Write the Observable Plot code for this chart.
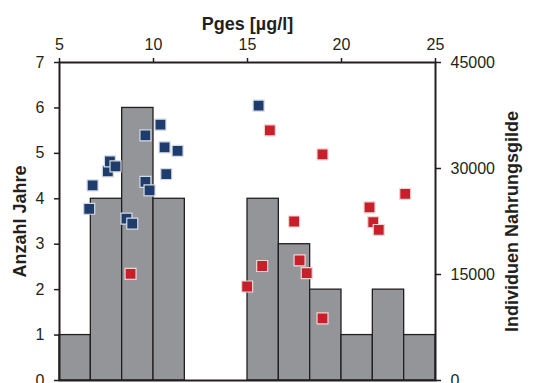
<!DOCTYPE html>
<html><head><meta charset="utf-8">
<script src="https://cdn.jsdelivr.net/npm/d3@7"></script>
<script src="https://cdn.jsdelivr.net/npm/@observablehq/plot@0.6"></script>
<style>body{margin:0;background:#fff;overflow:hidden}</style>
</head><body><div id="chart"></div>
<script>
// Histogram: bin edges (Pges, µg/l) and counts (Anzahl Jahre)
const binEdges = [5, 6.667, 8.333, 10, 11.667, 13.333, 15, 16.667, 18.333, 20, 21.667, 23.333, 25];
const counts = [1, 4, 6, 4, 0, 0, 4, 3, 2, 1, 2, 1];

// Blue squares (Pges, Individuen Nahrungsgilde)
const blueX = [6.58, 6.76, 7.57, 7.68, 7.98, 8.56, 8.87, 9.57, 9.79, 9.57, 10.37, 10.59, 11.28, 10.68, 15.59];
const blueV = [24300, 27600, 29600, 31000, 30300, 22900, 22200, 28100, 26900, 34700, 36200, 33000, 32500, 29200, 38900];

// Red squares
const redX = [8.78, 14.98, 15.78, 16.19, 17.48, 17.77, 18.15, 18.99, 18.99, 21.49, 21.69, 21.98, 23.39];
const redV = [15100, 13300, 16200, 35400, 22500, 17000, 15200, 32000, 8800, 24500, 22400, 21300, 26400];

const xTicks = [5, 10, 15, 20, 25];
const leftTicks = [0, 1, 2, 3, 4, 5, 6, 7];
const rightTicks = [0, 15000, 30000, 45000];
const leftMax = 7, rightMax = 45000;
const toLeft = v => v * leftMax / rightMax;

const bins = counts.map((c, i) => ({x1: binEdges[i], x2: binEdges[i + 1], count: c}));
const blue = blueX.map((x, i) => ({x, v: blueV[i]}));
const red = redX.map((x, i) => ({x, v: redV[i]}));

const ink = "#231f20";
const plot = Plot.plot({
  width: 533, height: 383,
  marginTop: 62, marginLeft: 59, marginRight: 98, marginBottom: 3,
  style: {fontFamily: "'Liberation Sans', Arial, sans-serif", fontSize: "16px", background: "white", color: ink, overflow: "hidden"},
  x: {domain: [5, 25]},
  y: {domain: [0, leftMax]},
  marks: [
    Plot.rectY(bins, {x1: "x1", x2: "x2", y: "count", fill: "#939598", stroke: ink, strokeWidth: 1.3}),
    Plot.dot(blue, {x: "x", y: d => toLeft(d.v), symbol: "square", r: 6.2, fill: "#1f3d6c", stroke: "#d5dae3", strokeWidth: 1.2}),
    Plot.dot(red, {x: "x", y: d => toLeft(d.v), symbol: "square", r: 6.2, fill: "#c8202b", stroke: "#f1d5d6", strokeWidth: 1.2}),
    Plot.axisX({anchor: "top", ticks: xTicks, tickSize: 5, tickPadding: 8, label: null, fontSize: 16, strokeWidth: 1.5}),
    Plot.axisY({anchor: "left", ticks: leftTicks, tickSize: 5, tickPadding: 10, label: null, fontSize: 16, strokeWidth: 1.5,
      tickFormat: d => String(d)}),
    Plot.axisY(rightTicks.map(toLeft), {anchor: "right", tickSize: 5, tickPadding: 10, label: null, fontSize: 16, strokeWidth: 1.5,
      tickFormat: d => String(Math.round(d * rightMax / leftMax))}),
    Plot.frame({stroke: ink, strokeWidth: 2}),
    Plot.text(["Pges [µg/l]"], {text: d => d, frameAnchor: "top", dy: -45, fontWeight: "bold", fontSize: 18, fill: ink}),
    Plot.text(["Anzahl Jahre"], {text: d => d, frameAnchor: "left", textAnchor: "middle", dx: -39, rotate: -90, fontWeight: "bold", fontSize: 18, fill: ink}),
    Plot.text(["Individuen Nahrungsgilde"], {text: d => d, frameAnchor: "right", textAnchor: "middle", dx: 77, rotate: -90, fontWeight: "bold", fontSize: 18, fill: ink})
  ]
});
document.getElementById("chart").append(plot);
</script>
</body></html>
